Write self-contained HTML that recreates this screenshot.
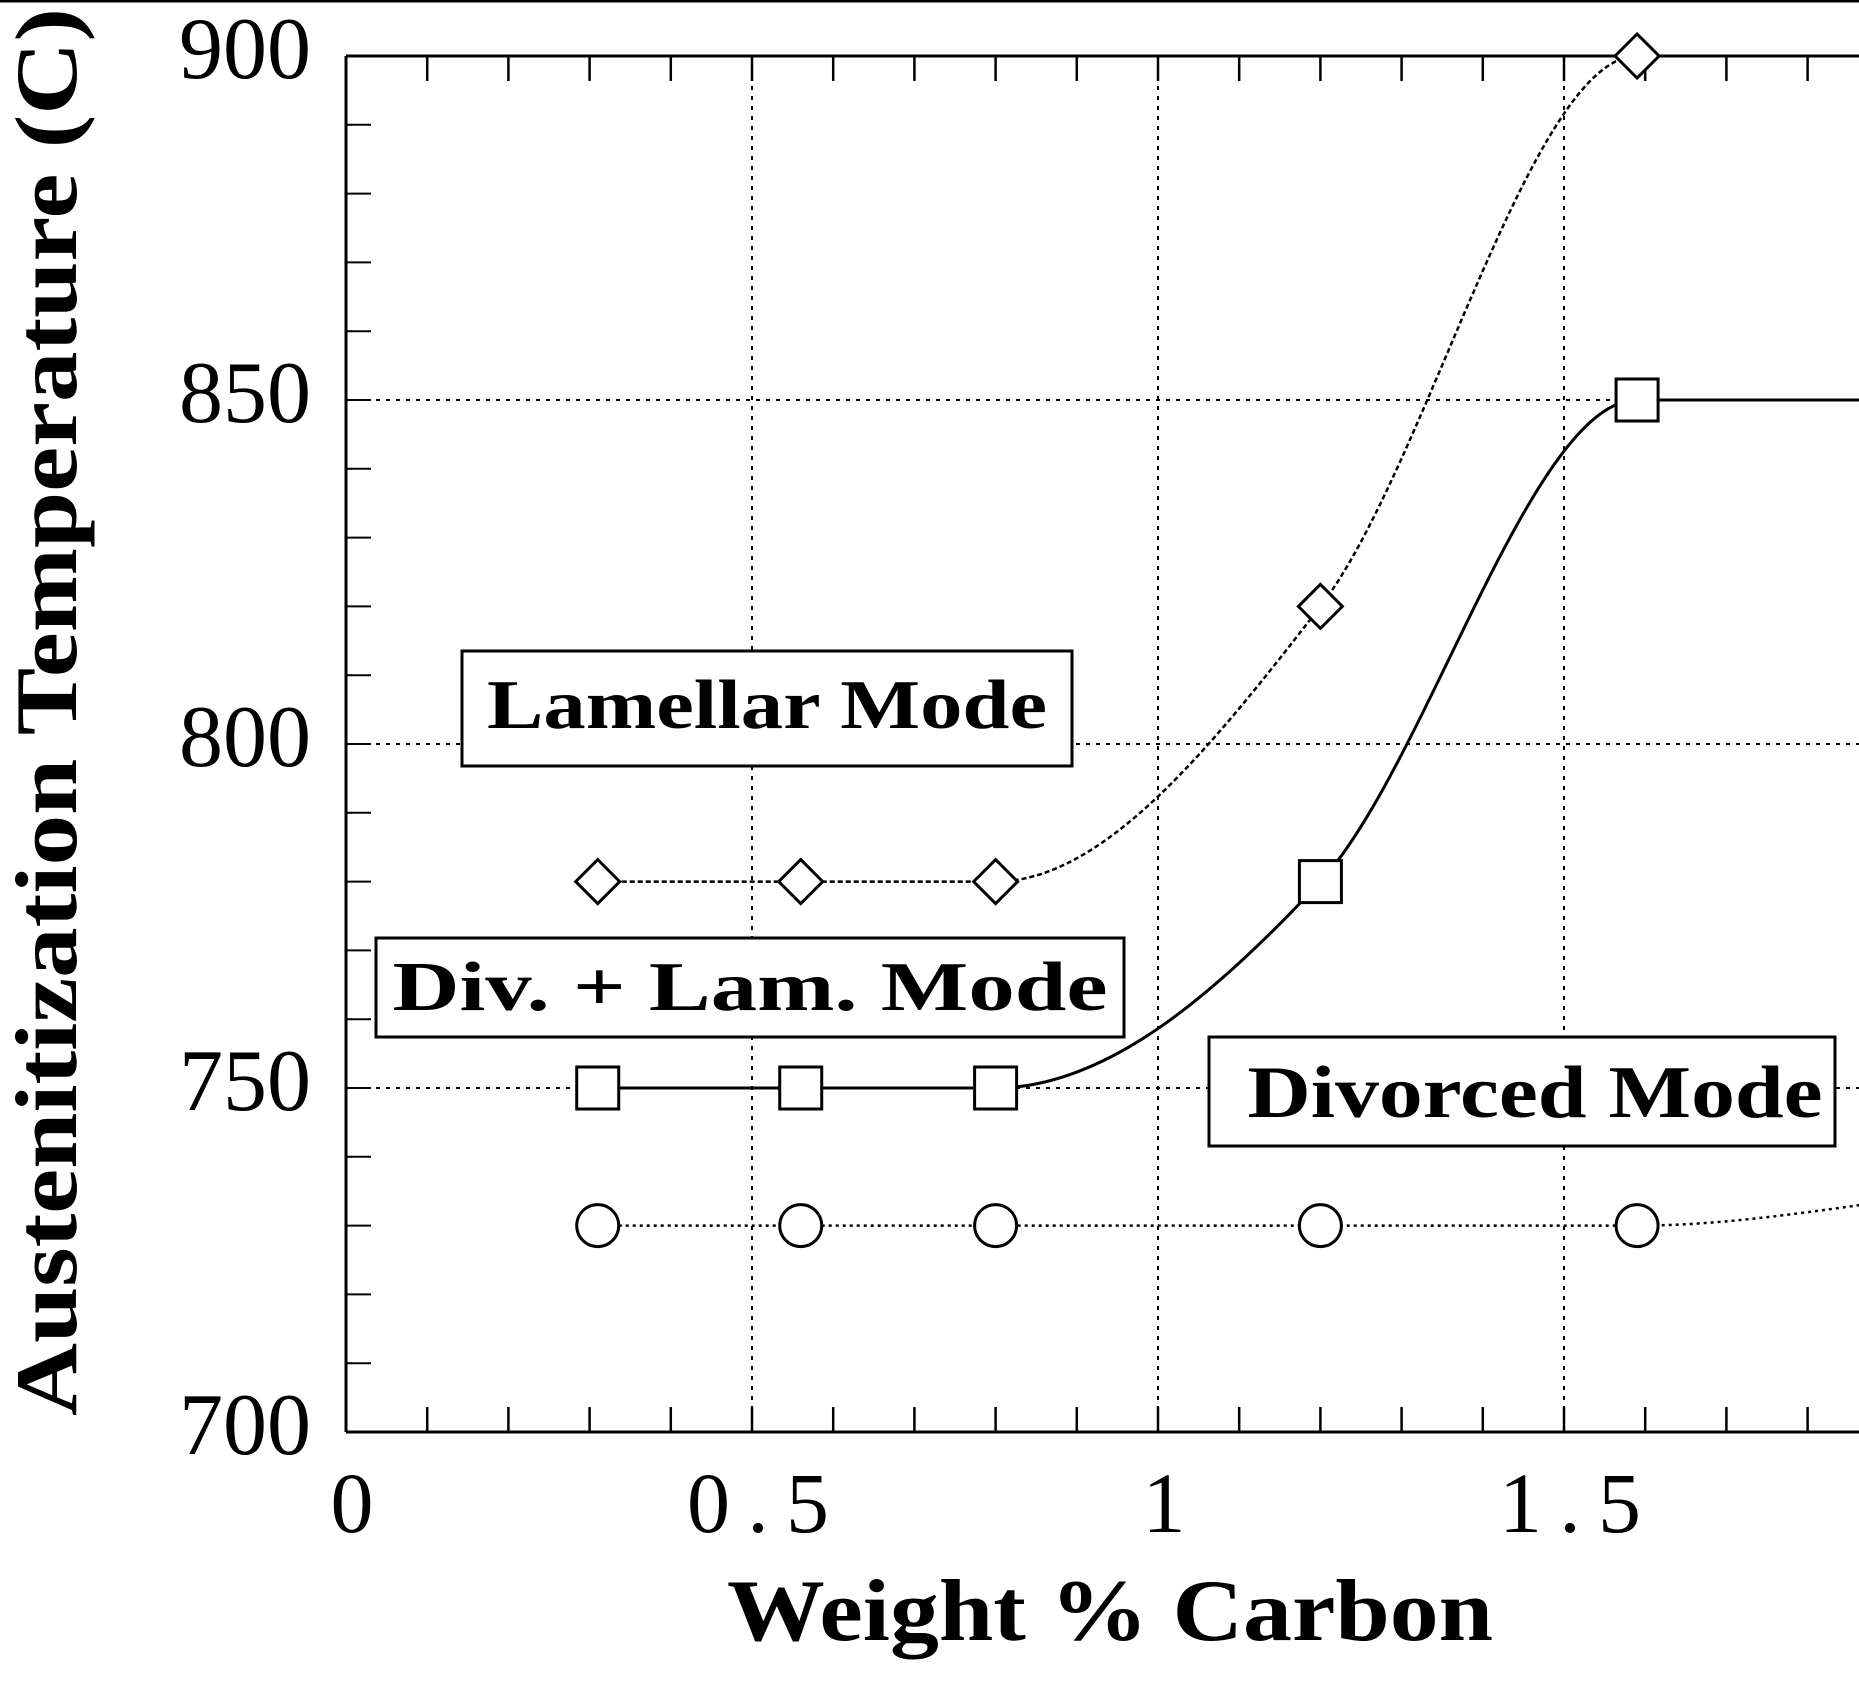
<!DOCTYPE html>
<html><head><meta charset="utf-8"><style>
html,body{margin:0;padding:0;background:#fff}
svg{display:block}
text{font-family:"Liberation Serif",serif;fill:#000}
</style></head><body>
<svg id="chart" width="1859" height="1697" viewBox="0 0 1859 1697" xmlns="http://www.w3.org/2000/svg">
<defs><clipPath id="clip"><rect x="346" y="30" width="1513" height="1402"/></clipPath></defs>
<line x1="0" y1="1" x2="1859" y2="1" stroke="#000" stroke-width="3"/>
<g id="grid"></g>
<g id="axes"></g>
<g id="series" clip-path="url(#clip)"></g>
<g id="markers"></g>
<g>
<rect x="462" y="651" width="610" height="115" fill="#fff" stroke="#000" stroke-width="3"/>
<text x="767" y="728" font-size="70" font-weight="bold" text-anchor="middle" textLength="560" lengthAdjust="spacingAndGlyphs">Lamellar  Mode</text>
</g>
<g>
<rect x="376" y="938" width="748" height="99" fill="#fff" stroke="#000" stroke-width="3"/>
<text x="750" y="1010" font-size="70" font-weight="bold" text-anchor="middle" textLength="715" lengthAdjust="spacingAndGlyphs">Div.  +  Lam.  Mode</text>
</g>
<g>
<rect x="1209" y="1037" width="626" height="109" fill="#fff" stroke="#000" stroke-width="3"/>
<text x="1535" y="1117" font-size="74" font-weight="bold" text-anchor="middle" textLength="575" lengthAdjust="spacingAndGlyphs">Divorced Mode</text>
</g>
<text x="1110" y="1640" font-size="88" font-weight="bold" text-anchor="middle" textLength="766" lengthAdjust="spacingAndGlyphs">Weight  %  Carbon</text>
<text transform="translate(76,712) rotate(-90)" font-size="88" font-weight="bold" text-anchor="middle" textLength="1408" lengthAdjust="spacingAndGlyphs">Austenitization  Temperature  (C)</text>
</svg>
<script>
const xTicks=[0,0.5,1,1.5];
const xTickLabels=["0","0.5","1","1.5"];
const yTicks=[700,750,800,850,900];
const yTickLabels=["700","750","800","850","900"];
const diamondX=[0.31,0.56,0.8,1.2,1.59];
const diamondY=[780,780,780,820,900];
const squareX=[0.31,0.56,0.8,1.2,1.59];
const squareY=[750,750,750,780,850];
const circleX=[0.31,0.56,0.8,1.2,1.59];
const circleY=[730,730,730,730,730];
const curveTailX=[2.0];
const diamondTailY=[900];
const squareTailY=[850];
const circleTailY=[735];

const X0=346,PXU=812,Y0=1432,PYU=6.88;
const sx=v=>X0+v*PXU, sy=v=>Y0-(v-700)*PYU;
const NS="http://www.w3.org/2000/svg";
function mk(tag,attrs,parent){const e=document.createElementNS(NS,tag);for(const k in attrs)e.setAttribute(k,attrs[k]);parent.appendChild(e);return e;}
const grid=document.getElementById('grid'),axes=document.getElementById('axes'),series=document.getElementById('series'),markers=document.getElementById('markers');
const rightX=1859,topY=sy(900);

xTicks.slice(1).forEach(v=>{const l=mk('line',{x1:sx(v),x2:sx(v),y1:topY,y2:Y0,stroke:'#000','stroke-width':2,'stroke-dasharray':'4 6'},grid);

});
yTicks.slice(1,-1).forEach(v=>{const l=mk('line',{x1:X0,x2:rightX,y1:sy(v),y2:sy(v),stroke:'#000','stroke-width':2,'stroke-dasharray':'4 6'},grid);

});

mk('line',{x1:X0,x2:rightX,y1:topY,y2:topY,stroke:'#000','stroke-width':3},axes);
mk('line',{x1:X0,x2:rightX,y1:Y0,y2:Y0,stroke:'#000','stroke-width':3},axes);
mk('line',{x1:X0,x2:X0,y1:topY,y2:Y0,stroke:'#000','stroke-width':3},axes);
for(let i=1;i<=18;i++){const x=sx(i/10);
mk('line',{x1:x,x2:x,y1:Y0,y2:Y0-25,stroke:'#000','stroke-width':2.5},axes);
mk('line',{x1:x,x2:x,y1:topY,y2:topY+25,stroke:'#000','stroke-width':2.5},axes);}
for(let v=710;v<900;v+=10){mk('line',{x1:X0,x2:X0+25,y1:sy(v),y2:sy(v),stroke:'#000','stroke-width':2},axes);}
xTicks.forEach((v,i)=>{const t=mk('text',{x:sx(v)+6,y:1532,'font-size':86,'text-anchor':'middle'},axes);t.textContent=xTickLabels[i].split('').join('\u2009');

});
yTicks.forEach((v,i)=>{const t=mk('text',{x:311,y:sy(v)+22,'font-size':88,'text-anchor':'end'},axes);t.textContent=yTickLabels[i];

});

function monotone(px,py){const n=px.length,d=[],m=[];
for(let i=0;i<n-1;i++)d.push((py[i+1]-py[i])/(px[i+1]-px[i]));
m[0]=d[0];m[n-1]=d[n-2];
for(let i=1;i<n-1;i++)m[i]=(d[i-1]*d[i]<=0)?0:(d[i-1]+d[i])/2;
for(let i=0;i<n-1;i++){if(d[i]===0){m[i]=0;m[i+1]=0;continue;}const a=m[i]/d[i],b=m[i+1]/d[i],s=a*a+b*b;if(s>9){const t=3/Math.sqrt(s);m[i]=t*a*d[i];m[i+1]=t*b*d[i];}}
let p=`M${px[0]},${py[0]}`;
for(let i=0;i<n-1;i++){const h=(px[i+1]-px[i])/3;p+=` C${px[i]+h},${py[i]+m[i]*h} ${px[i+1]-h},${py[i+1]-m[i+1]*h} ${px[i+1]},${py[i+1]}`;}
return p;}
function curve(xs,ys,tx,ty,name,dash,w){const X=xs.concat(tx).map(sx),Y=ys.concat(ty).map(sy);
const p=mk('path',{d:monotone(X,Y),fill:'none',stroke:'#000','stroke-width':w,'stroke-dasharray':dash},series);

}
curve(diamondX,diamondY,curveTailX,diamondTailY,'lamellar-boundary-line','5 3',2.5);
curve(squareX,squareY,curveTailX,squareTailY,'divorced-boundary-line','none',3);
curve(circleX,circleY,curveTailX,circleTailY,'eutectoid-line','3 4',2.5);

diamondX.forEach((v,i)=>{const x=sx(v),y=sy(diamondY[i]),r=22;
const e=mk('path',{d:`M${x},${y-r} L${x+r},${y} L${x},${y+r} L${x-r},${y} Z`,fill:'#fff',stroke:'#000','stroke-width':3},markers);

});
squareX.forEach((v,i)=>{const x=sx(v),y=sy(squareY[i]);
const e=mk('rect',{x:x-21,y:y-21,width:42,height:42,fill:'#fff',stroke:'#000','stroke-width':3},markers);

});
circleX.forEach((v,i)=>{const e=mk('circle',{cx:sx(v),cy:sy(circleY[i]),r:21,fill:'#fff',stroke:'#000','stroke-width':3},markers);

});
</script>
</body></html>
